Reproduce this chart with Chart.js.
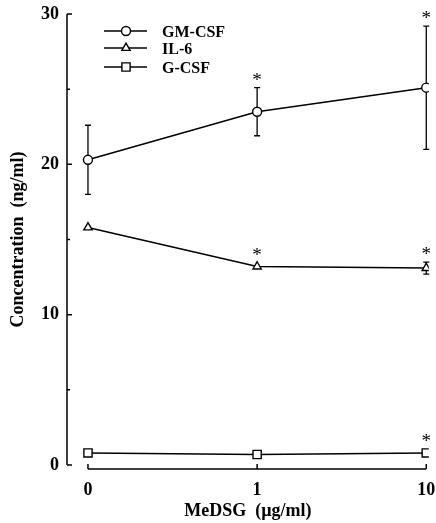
<!DOCTYPE html>
<html>
<head>
<meta charset="utf-8">
<script src="https://cdn.jsdelivr.net/npm/chart.js@4.4.1/dist/chart.umd.min.js"></script>
<style>
  html, body { margin: 0; padding: 0; background: #fff; }
  #wrap { width: 436px; height: 523px; }
</style>
</head>
<body>
<div id="wrap"><canvas id="chart"></canvas></div>
<script>
// doses of MeDSG (ug/ml), drawn equally spaced
var doseLabels = ['0', '1', '10'];
var doseIndex = [0, 1, 2];

var gmcsf = [20.3, 23.5, 25.1];
var gmcsfErr = [2.3, 1.6, 4.1];
var gmcsfSig = [false, true, true];

var il6 = [15.8, 13.2, 13.1];
var il6Err = [0, 0, 0.4];
var il6Sig = [false, true, true];

var gcsf = [0.8, 0.7, 0.8];
var gcsfErr = [0, 0, 0];
var gcsfSig = [false, false, true];

var yTicks = [0, 10, 20, 30];
var yMinorTicks = [5, 15, 25];

var serif = '"Liberation Serif", "Times New Roman", serif';

function points(vals) {
    return vals.map(function(v, i) { return { x: doseIndex[i], y: v }; });
}

function series(label, vals, style, radius) {
    return {
        label: label,
        data: points(vals),
        borderColor: '#000',
        borderWidth: 1.5,
        pointStyle: style,
        pointRadius: radius,
        pointHoverRadius: radius,
        pointBackgroundColor: '#fff',
        pointBorderColor: '#000',
        pointBorderWidth: 1.4,
        tension: 0
    };
}

var errs = [gmcsfErr, il6Err, gcsfErr];
var sigs = [gmcsfSig, il6Sig, gcsfSig];

var extras = {
    id: 'extras',
    beforeDatasetsDraw: function(chart) {
        var c = chart.ctx, xs = chart.scales.x, ys = chart.scales.y, a = chart.chartArea;
        c.save();
        c.strokeStyle = '#000';
        c.lineWidth = 1.5;
        // y axis with inward ticks
        c.beginPath();
        c.moveTo(a.left, ys.getPixelForValue(30));
        c.lineTo(a.left, ys.getPixelForValue(0));
        yTicks.forEach(function(t) {
            var py = ys.getPixelForValue(t);
            c.moveTo(a.left, py); c.lineTo(a.left + 5, py);
        });
        yMinorTicks.forEach(function(t) {
            var py = ys.getPixelForValue(t);
            c.moveTo(a.left, py); c.lineTo(a.left + 3, py);
        });
        // x axis, offset below
        var bx = a.bottom + 4;
        c.moveTo(xs.getPixelForValue(0), bx);
        c.lineTo(xs.getPixelForValue(2), bx);
        doseIndex.forEach(function(d) {
            var px = xs.getPixelForValue(d);
            c.moveTo(px, bx); c.lineTo(px, bx - 5);
        });
        c.stroke();
        // error bars
        c.lineWidth = 1.3;
        chart.data.datasets.forEach(function(ds, k) {
            ds.data.forEach(function(p, i) {
                var e = errs[k][i];
                if (!e) return;
                var px = xs.getPixelForValue(p.x);
                var top = ys.getPixelForValue(p.y + e), bot = ys.getPixelForValue(p.y - e);
                c.beginPath();
                c.moveTo(px, top); c.lineTo(px, bot);
                c.moveTo(px - 3, top); c.lineTo(px + 3, top);
                c.moveTo(px - 3, bot); c.lineTo(px + 3, bot);
                c.stroke();
            });
        });
        c.restore();
    },
    afterDatasetsDraw: function(chart) {
        var c = chart.ctx, xs = chart.scales.x, ys = chart.scales.y;
        c.save();
        c.fillStyle = '#000';
        c.font = '19px ' + serif;
        c.textAlign = 'center';
        c.textBaseline = 'middle';
        chart.data.datasets.forEach(function(ds, k) {
            ds.data.forEach(function(p, i) {
                if (!sigs[k][i]) return;
                var px = xs.getPixelForValue(p.x);
                var top = Math.min(ys.getPixelForValue(p.y + errs[k][i]), ys.getPixelForValue(p.y) - 4);
                c.fillText('*', px, top - 7);
            });
        });
        // legend
        var rows = [31, 48, 67];
        c.font = 'bold 16px ' + serif;
        c.textAlign = 'left';
        chart.data.datasets.forEach(function(ds, k) {
            var y = rows[k];
            c.strokeStyle = '#000';
            c.lineWidth = 1.5;
            c.beginPath();
            c.moveTo(104, y); c.lineTo(147, y);
            c.stroke();
            c.fillStyle = '#fff';
            c.lineWidth = 1.4;
            Chart.helpers.drawPoint(c, { pointStyle: ds.pointStyle, radius: ds.pointRadius, borderWidth: 1.4, rotation: 0 }, 126, y);
            c.fillStyle = '#000';
            c.fillText(ds.label, 162, y + 2);
        });
        c.restore();
    }
};

new Chart(document.getElementById('chart').getContext('2d'), {
    type: 'line',
    data: {
        datasets: [
            series('GM-CSF', gmcsf, 'circle', 4.5),
            series('IL-6', il6, 'triangle', 4.8),
            series('G-CSF', gcsf, 'rect', 5.8)
        ]
    },
    options: {
        responsive: true,
        maintainAspectRatio: false,
        animation: false,
        events: [],
        layout: { padding: { top: 14, right: 0, left: 0, bottom: 0 } },
        plugins: { legend: { display: false }, tooltip: { enabled: false } },
        scales: {
            x: {
                type: 'linear',
                min: -0.124,
                max: 2.015,
                grid: { display: false, drawTicks: false },
                border: { display: false },
                afterBuildTicks: function(s) {
                    s.ticks = doseIndex.map(function(v) { return { value: v }; });
                },
                afterFit: function(s) {
                    s.height = 58;
                    s.paddingLeft = 0;
                    s.paddingRight = 0;
                },
                ticks: {
                    color: '#000',
                    padding: 15,
                    autoSkip: false,
                    maxRotation: 0,
                    font: { family: serif, size: 18, weight: 'bold' },
                    callback: function(v) { return doseLabels[v]; }
                },
                title: {
                    display: true,
                    text: 'MeDSG  (\u00b5g/ml)',
                    color: '#000',
                    padding: { top: 0, bottom: 1 },
                    font: { family: serif, size: 18, weight: 'bold' }
                }
            },
            y: {
                min: 0,
                max: 30,
                grid: { display: false, drawTicks: false },
                border: { display: false },
                afterBuildTicks: function(s) {
                    s.ticks = yTicks.map(function(v) { return { value: v }; });
                },
                afterFit: function(s) {
                    s.width = 67;
                    s.paddingTop = 0;
                    s.paddingBottom = 0;
                },
                ticks: {
                    color: '#000',
                    padding: 8,
                    font: { family: serif, size: 18, weight: 'bold' }
                },
                title: {
                    display: true,
                    text: 'Concentration  (ng/ml)',
                    color: '#000',
                    padding: { top: 8, bottom: 0 },
                    font: { family: serif, size: 18, weight: 'bold' }
                }
            }
        }
    },
    plugins: [extras]
});
</script>
</body>
</html>
